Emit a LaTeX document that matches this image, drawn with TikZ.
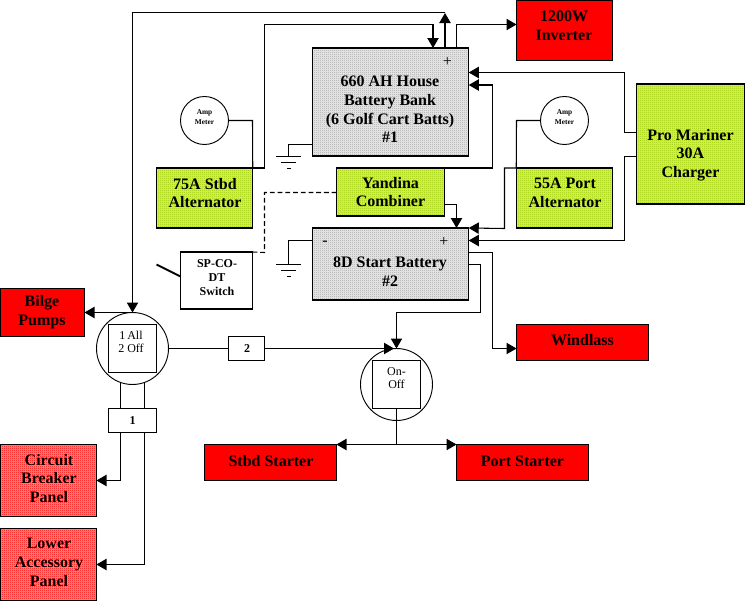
\documentclass[tikz,border=0pt]{standalone}
\usepackage{fontspec}
\setmainfont{Liberation Serif}
\usetikzlibrary{arrows.meta,patterns}
% one-pixel checkerboard used for the dithered panel fills
\pgfdeclarepatternformonly{chk}{\pgfpointorigin}{\pgfqpoint{1.5pt}{1.5pt}}{\pgfqpoint{1.5pt}{1.5pt}}{%
  \pgfpathrectangle{\pgfpointorigin}{\pgfqpoint{.75pt}{.75pt}}%
  \pgfpathrectangle{\pgfqpoint{.75pt}{.75pt}}{\pgfqpoint{.75pt}{.75pt}}%
  \pgfusepath{fill}}
\definecolor{solidred}{HTML}{FF0000}
\definecolor{palered}{HTML}{FF8C8C}
\definecolor{panelgreen}{HTML}{99CC00}
\definecolor{panelyellow}{HTML}{DDEE66}
\definecolor{panelgray}{HTML}{A6A6A6}
\definecolor{palegray}{HTML}{EAEAEA}
\tikzset{
  wh/.style 2 args={minimum width=#1*0.75pt,minimum height=#2*0.75pt},
  panel/.style={draw=black,line width=1pt,inner sep=0pt,outer sep=0pt,rectangle},
  redbox/.style={panel,fill=solidred},
  whitebox/.style={panel,fill=white,line width=.8pt},
  greenbox/.style={panel,preaction={fill=panelyellow},pattern=chk,pattern color=panelgreen},
  graybox/.style={panel,preaction={fill=palegray},pattern=chk,pattern color=panelgray},
  pinkbox/.style={panel,preaction={fill=palered},pattern=chk,pattern color=solidred},
  dial/.style={draw=black,circle,line width=.7pt,fill=white,inner sep=0pt,outer sep=0pt},
  wire/.style={draw=black,line width=.8pt},
  tip/.style={-{Triangle[length=7.5pt,width=8.5pt]}},
  dashwire/.style={wire,dash pattern=on 3.6pt off 2.2pt},
  big/.style={font=\fontsize{12}{14}\selectfont\bfseries,align=center,inner sep=0pt},
  mid/.style={font=\fontsize{9}{10.5}\selectfont\bfseries,align=center,inner sep=0pt},
  plain/.style={font=\fontsize{9}{10.2}\selectfont,align=center,inner sep=0pt},
  tiny/.style={font=\fontsize{5.5}{7.6}\selectfont\bfseries,align=center,inner sep=0pt},
  sign/.style={font=\fontsize{12}{13}\selectfont,inner sep=0pt},
}
\begin{document}
\begin{tikzpicture}[x=0.75pt,y=-0.75pt]
\useasboundingbox (0,0) rectangle (747,603);
\fill[white] (0,0) rectangle (747,603);

% batteries and charging sources
\node[graybox,wh={156.5}{108}] (house) at (390.5,102) {};
\node[graybox,wh={156.5}{72}] (start) at (390.5,264) {};
\node[greenbox,wh={96.5}{60}] (stbd) at (204.5,198) {};
\node[greenbox,wh={96.5}{60}] (port) at (564.5,198) {};
\node[greenbox,wh={108}{48}] (yandina) at (390.5,192) {};
\node[greenbox,wh={108.5}{120}] (charger) at (690.5,144) {};
\node[whitebox,wh={72}{57}] (spdt) at (216.5,280.5) {};

% loads
\node[redbox,wh={96}{60}] (inverter) at (564.5,30.5) {};
\node[redbox,wh={84}{48}] (bilge) at (42.5,312.5) {};
\node[redbox,wh={132}{36}] (windlass) at (582.5,342.5) {};
\node[redbox,wh={132}{36}] (stbdstart) at (270.5,462.5) {};
\node[redbox,wh={132}{36}] (portstart) at (522.5,462.5) {};
\node[pinkbox,wh={96}{72}] (breaker) at (48.5,480.5) {};
\node[pinkbox,wh={96}{72}] (accessory) at (48.5,564.5) {};

% meters and selector switches
\node[dial,minimum size=36pt] (amp1) at (204.5,120.5) {};
\node[dial,minimum size=36pt] (amp2) at (564.5,120.5) {};
\node[dial,minimum size=54pt] (sw1) at (132.5,348.5) {};
\node[dial,minimum size=54pt] (sw2) at (396.5,384.5) {};
\node[whitebox,wh={48}{48}] (sw1face) at (132.5,348.5) {};
\node[whitebox,wh={48}{48}] (sw2face) at (396.5,384.5) {};
\node[whitebox,wh={48}{24}] (fuse1) at (132.5,420.5) {};
\node[whitebox,wh={36}{24}] (fuse2) at (246.5,348.5) {};

% free junction where the long feed meets the up arrow
\coordinate (topjoin) at (445,12.5);
\coordinate (lever) at (156.5,264.5);

% house bank connections
\draw[wire,tip] (house.north -| 445,0) -- (445,13);
\draw[wire,tip] (topjoin) -- (132.5,12.5) -- (sw1.north);
\draw[wire,tip] (stbd.north east) -- (264.5,168) -- (264.5,24.5) -- (433,24.5) -- (house.north -| 433,0);
\draw[wire,tip] (house.north -| 456.5,0) -- (456.5,24.5) -- (inverter.west |- 0,24.5);
\draw[wire,tip] (charger.west |- 0,132.5) -- (624.5,132.5) -- (624.5,72.5) -- (house.east |- 0,72.5);
\draw[wire,tip] (yandina.north east) -- (492.5,168) -- (492.5,85) -- (house.east |- 0,85);

% start battery connections
\draw[wire,tip] (charger.west |- 0,156.5) -- (624.5,156.5) -- (624.5,240.5) -- (start.east |- 0,240.5);
\draw[wire,tip] (port.north west) -- (504.5,168) -- (504.5,228.5) -- (start.north east);
\draw[wire,tip] (yandina.east |- 0,204.5) -- (456.5,204.5) -- (start.north -| 456.5,0);
\draw[wire,tip] (start.east |- 0,252.5) -- (492.5,252.5) -- (492.5,348.5) -- (windlass.west |- 0,348.5);
\draw[wire,tip] (start.east |- 0,264.5) -- (480.5,264.5) -- (480.5,312.5) -- (396.5,312.5) -- (sw2.north);

% meter leads
\draw[wire] (amp1.east) -- (252.5,120.5) -- (stbd.north east);
\draw[wire] (amp2.west) -- (516.5,120.5) -- (port.north west);

% remote switch line and lever
\draw[dashwire] (yandina.west |- 0,192.5) -- (264.5,192.5) -- (264.5,252.5) -- (spdt.north east);
\draw[black,line width=1.5pt] (lever) -- (spdt.west |- 0,276.5);

% grounds
\draw[wire] (house.west |- 0,144.5) -- (288.5,144.5) -- (288.5,156.5);
\draw[wire] (276,156.5) -- (301,156.5);
\draw[wire] (281,162.5) -- (296,162.5);
\draw[wire] (287,168.5) -- (291,168.5);
\draw[wire] (start.west |- 0,240.5) -- (288.5,240.5) -- (288.5,264.5);
\draw[wire] (276,264.5) -- (301,264.5);
\draw[wire] (281,270.5) -- (296,270.5);
\draw[wire] (287,276.5) -- (291,276.5);

% distribution from the selector switches
\draw[wire,tip] (sw1.north) -- (bilge.east |- sw1.north);
\draw[wire] (sw1.east) -- (fuse2.west);
\draw[wire,tip] (fuse2.east) -- (394,348.5);
\draw[wire] (120.5,383) -- (fuse1.north -| 120.5,0);
\draw[wire] (144.5,383) -- (fuse1.north -| 144.5,0);
\draw[wire,tip] (fuse1.south -| 120.5,0) -- (120.5,480.5) -- (breaker.east);
\draw[wire,tip] (fuse1.south -| 144.5,0) -- (144.5,564.5) -- (accessory.east);
\draw[wire,tip] (sw2face.south) -- (396.5,444.5) -- (stbdstart.north east);
\draw[wire,tip] (396.5,444.5) -- (portstart.north west);

% lettering
\node[big] (t1) at (390,109.5) {660 AH House\\Battery Bank\\(6 Golf Cart Batts)\\\#1};
\node[big] (t2) at (390,271.5) {8D Start Battery\\\#2};
\node[big] (t3) at (205,193) {75A Stbd\\Alternator};
\node[big] (t4) at (565,193) {55A Port\\Alternator};
\node[big] (t5) at (390.5,192) {Yandina\\Combiner};
\node[big] (t6) at (690.5,155) {Pro Mariner\\30A\\Charger};
\node[big] (t7) at (564,25.5) {1200W\\Inverter};
\node[big] (t8) at (42,312) {Bilge\\Pumps};
\node[big] (t9) at (582.5,340.5) {Windlass};
\node[big] (t10) at (271,461) {Stbd Starter};
\node[big] (t11) at (522.5,461) {Port Starter};
\node[big] (t12) at (49,478.5) {Circuit\\Breaker\\Panel};
\node[big] (t13) at (49,562.5) {Lower\\Accessory\\Panel};
\node[mid] (t14) at (217,278) {SP-CO-\\DT\\Switch};
\node[mid] (t15) at (132.5,421) {1};
\node[mid] (t16) at (247,349) {2};
\node[plain] (t17) at (131,342) {1\,All\\2 Off};
\node[plain] (t18) at (396.5,378) {On-\\Off};
\node[tiny] (t19) at (204.5,117) {Amp\\Meter};
\node[tiny] (t20) at (564.5,117) {Amp\\Meter};
\node[sign] (t21) at (447.5,62) {+};
\node[sign] (t22) at (444,242) {+};
\node[sign] (t23) at (325,243) {-};
\end{tikzpicture}
\end{document}
